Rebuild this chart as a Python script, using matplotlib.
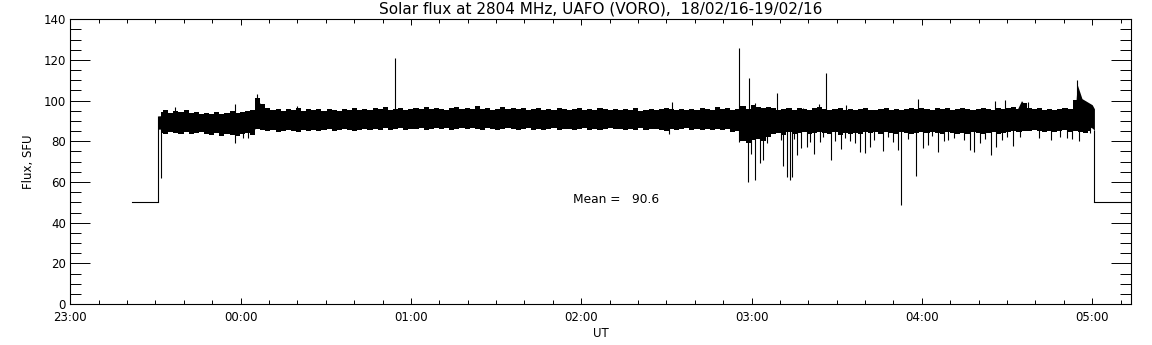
from typing import List

import matplotlib

matplotlib.use("Agg")
import matplotlib.pyplot as plt
import numpy as np
from matplotlib.ticker import FixedLocator, MultipleLocator

# time axis is in hours after 23:00 UT
xMax: float = 6.228
tickHours: List[int] = [0, 1, 2, 3, 4, 5, 6]
tickLabels: List[str] = ["23:00", "00:00", "01:00", "02:00", "03:00", "04:00", "05:00"]

# receiver off (parked at 50 SFU) before and after the observation
offBeforeT: List[float] = [0.360, 0.517]
offBeforeV: List[float] = [50.0, 50.0]
offAfterT: List[float] = [6.013, 6.228]
offAfterV: List[float] = [50.0, 50.0]

# envelope of the solid noise band
bandT: List[float] = [
    0.517, 0.60, 0.70, 0.80, 0.90, 1.00, 1.08, 1.095, 1.12, 1.15, 1.20, 1.40,
    1.60, 1.80, 2.00, 2.50, 3.00, 3.50, 3.90, 3.96, 4.00, 4.13, 4.20, 4.50,
    4.90, 5.20, 5.43, 5.55, 5.585, 5.62, 5.66, 5.90, 5.912, 5.94, 6.00, 6.013,
]
bandHi: List[float] = [
    92.5, 93.0, 93.0, 92.5, 92.0, 92.0, 92.5, 101.0, 98.0, 95.0, 93.5, 93.5,
    93.5, 94.0, 94.0, 94.5, 94.5, 94.0, 94.0, 94.0, 94.0, 93.5, 93.5, 93.5,
    94.0, 93.5, 93.5, 94.0, 100.0, 96.0, 94.0, 94.0, 108.0, 101.0, 98.0, 96.0,
]
bandLo: List[float] = [
    86.0, 86.0, 86.0, 85.5, 85.5, 85.5, 85.5, 88.0, 87.0, 87.0, 87.0, 87.5,
    87.5, 87.5, 88.0, 88.0, 88.0, 88.0, 87.5, 86.0, 84.0, 84.0, 86.0, 86.5,
    86.5, 86.5, 86.5, 87.0, 90.0, 88.0, 87.5, 87.5, 92.0, 89.0, 86.5, 85.5,
]

# ragged edge of the band, one reading every 0.03 h from 0.53 h
fringeStart: float = 0.53
fringeStep: float = 0.03
fringeUp: List[float] = [
    94.5, 95.5, 94.0, 95.0, 94.5, 95.5, 94.0, 94.5, 93.5, 94.0,
    93.5, 94.5, 93.5, 94.0, 95.0, 94.0, 94.5, 95.0, 95.5, 101.5,
    98.5, 96.5, 95.5, 96.0, 95.0, 96.0, 95.5, 96.5, 95.0, 96.0,
    95.5, 96.0, 95.0, 96.0, 95.5, 95.0, 96.0, 95.5, 96.5, 95.5,
    96.0, 95.5, 96.5, 96.0, 97.0, 95.5, 96.0, 96.5, 95.5, 96.0,
    96.5, 96.0, 97.0, 96.0, 96.5, 96.0, 95.5, 96.5, 97.0, 96.0,
    96.5, 96.0, 97.5, 96.0, 96.5, 95.5, 96.0, 97.0, 96.0, 96.5,
    96.0, 96.5, 95.5, 96.0, 96.5, 95.5, 96.0, 95.5, 96.5, 96.0,
    95.5, 96.0, 96.5, 95.5, 96.0, 95.5, 96.5, 96.0, 95.5, 96.0,
    95.5, 96.0, 95.5, 96.5, 95.0, 95.5, 96.0, 95.5, 96.0, 96.5,
    96.0, 95.5, 96.0, 95.5, 96.0, 95.5, 96.5, 96.0, 95.5, 97.0,
    96.0, 96.5, 95.5, 96.0, 97.5, 96.0, 98.0, 97.0, 96.5, 97.0,
    96.5, 95.5, 96.0, 96.5, 95.5, 96.5, 96.0, 95.5, 96.5, 97.0,
    96.0, 95.5, 96.0, 96.5, 95.5, 96.0, 95.5, 96.0, 96.5, 95.5,
    95.5, 96.0, 96.5, 95.5, 96.0, 95.5, 96.0, 96.5, 96.0, 96.5,
    96.0, 95.5, 96.5, 96.0, 96.5, 95.5, 96.0, 96.5, 96.0, 95.5,
    96.0, 96.5, 96.0, 95.5, 96.5, 96.0, 96.5, 97.0, 96.0, 99.0,
    96.5, 96.0, 96.5, 95.5, 96.0, 95.5, 96.0, 96.5, 96.0, 100.5,
    99.0, 98.5, 97.5,
]
fringeDown: List[float] = [
    84.0, 83.5, 84.5, 84.0, 83.5, 84.5, 83.5, 84.0, 84.5, 83.5,
    83.0, 84.0, 82.5, 83.5, 83.0, 82.5, 83.5, 84.0, 83.0, 86.0,
    85.5, 85.0, 85.5, 84.5, 85.0, 85.5, 85.0, 84.5, 85.5, 85.0,
    85.5, 85.0, 85.5, 86.0, 85.0, 85.5, 86.0, 85.5, 85.0, 85.5,
    86.0, 85.5, 86.0, 85.5, 86.5, 85.5, 86.0, 86.5, 85.5, 86.0,
    86.0, 86.5, 85.5, 86.0, 86.5, 86.0, 86.5, 85.5, 86.0, 86.5,
    86.0, 86.5, 86.0, 85.5, 86.5, 86.0, 85.5, 86.0, 86.5, 86.0,
    85.5, 86.0, 86.5, 85.5, 86.0, 85.5, 86.0, 86.5, 85.5, 86.0,
    86.0, 85.5, 86.0, 86.5, 85.5, 86.0, 85.5, 86.0, 86.5, 86.0,
    86.0, 85.5, 86.0, 85.5, 86.5, 85.5, 86.0, 86.0, 85.5, 85.0,
    86.0, 85.5, 86.0, 86.5, 85.5, 86.0, 85.5, 86.0, 85.5, 86.0,
    85.5, 86.0, 84.5, 85.0, 80.0, 79.0, 80.5, 81.0, 80.0, 82.0,
    83.5, 84.0, 83.0, 84.5, 83.5, 84.0, 84.5, 83.5, 84.0, 84.5,
    84.0, 83.5, 84.5, 83.0, 84.0, 83.5, 84.0, 83.5, 84.5, 84.0,
    84.5, 83.5, 84.5, 84.0, 83.5, 84.5, 84.0, 83.5, 84.0, 84.5,
    84.0, 84.5, 84.0, 83.5, 84.5, 84.0, 83.5, 84.0, 83.5, 84.5,
    84.0, 83.5, 84.0, 84.5, 83.5, 84.0, 84.5, 85.0, 84.5, 85.0,
    85.0, 85.5, 85.0, 84.5, 85.0, 84.5, 85.0, 85.5, 84.5, 85.0,
    84.5, 84.0, 85.0,
]

# isolated spikes above the band
upT: List[float] = [
    0.615, 0.967, 1.094, 1.329, 1.908, 3.533, 3.928, 3.987, 4.022, 4.151,
    4.304, 4.398, 4.439, 4.557, 4.979, 5.429, 5.490, 5.625, 5.910,
]
upV: List[float] = [
    97.0, 98.5, 103.5, 97.5, 121.0, 99.5, 125.7, 111.0, 99.0, 103.7,
    96.5, 98.3, 113.6, 97.8, 100.7, 99.8, 100.3, 99.5, 110.0,
]

# isolated spikes below the band
downT: List[float] = [
    0.531, 0.967, 1.014, 1.043, 3.517, 3.928, 3.981, 3.997, 4.022, 4.052,
    4.069, 4.089, 4.120, 4.187, 4.207, 4.226, 4.240, 4.269, 4.289, 4.324,
    4.369, 4.402, 4.469, 4.527, 4.578, 4.637, 4.666, 4.696, 4.774, 4.862,
    4.880, 4.964, 5.009, 5.035, 5.097, 5.156, 5.214, 5.283, 5.308, 5.405,
    5.434, 5.469, 5.534, 5.577, 5.851, 5.925, 5.988,
    4.170, 4.250, 4.345, 4.420, 4.490, 4.550, 4.610, 4.720, 4.800, 4.830,
    4.920, 5.060, 5.130, 5.190, 5.250, 5.340, 5.370, 5.500, 5.690, 5.760,
    5.810, 5.880,
]
downV: List[float] = [
    62.0, 79.0, 81.5, 81.5, 83.4, 79.8, 60.2, 74.0, 61.0, 69.2,
    70.8, 79.0, 84.0, 67.8, 62.6, 61.0, 62.6, 73.3, 76.5, 77.4,
    73.8, 79.8, 70.8, 76.0, 80.0, 74.9, 74.4, 77.4, 75.4, 75.7,
    48.8, 63.0, 76.5, 78.0, 74.9, 80.6, 84.0, 75.7, 74.9, 73.3,
    77.0, 80.6, 77.7, 82.2, 81.4, 80.0, 84.0,
    80.5, 81.0, 79.5, 82.0, 80.0, 81.5, 79.0, 80.5, 82.0, 79.5,
    81.0, 82.5, 80.0, 81.5, 80.5, 79.0, 81.0, 82.0, 81.5, 80.5,
    82.0, 81.0,
]

meanText: str = "Mean =   90.6"
meanPos: List[float] = [2.950, 51.6]


def plotFlux(fp: str) -> None:
    """
    Draw the 2804 MHz flux record in the style of the IDL plot
    """

    plt.rcParams["font.family"] = "DejaVu Sans"
    fig = plt.figure(figsize=(11.52, 3.45), dpi=100)
    ax = fig.add_axes([0.0610, 0.1188, 0.9208, 0.8252])

    lw: float = 0.8
    mid: float = 90.0
    ax.plot(offBeforeT, offBeforeV, color="black", lw=lw)
    ax.plot(offAfterT, offAfterV, color="black", lw=lw)
    ax.vlines(offBeforeT[-1], offBeforeV[-1], bandHi[0], color="black", lw=lw)
    ax.vlines(offAfterT[0], offAfterV[0], bandLo[-1], color="black", lw=lw)

    ax.fill_between(bandT, bandLo, bandHi, color="black", lw=0)

    fringeUpT = fringeStart + fringeStep * np.arange(len(fringeUp))
    fringeDownT = fringeStart + fringeStep * np.arange(len(fringeDown))
    ax.fill_between(fringeUpT, mid, fringeUp, step="mid", color="black", lw=0)
    ax.fill_between(fringeDownT, fringeDown, mid, step="mid", color="black", lw=0)

    ax.vlines(upT, mid, upV, color="black", lw=lw)
    ax.vlines(downT, downV, mid, color="black", lw=lw)

    ax.text(meanPos[0], meanPos[1], meanText, ha="left", va="center", fontsize=8.8)

    ax.set_xlim(0, xMax)
    ax.set_ylim(0, 140)
    ax.xaxis.set_major_locator(FixedLocator(tickHours))
    ax.set_xticklabels(tickLabels)
    ax.xaxis.set_minor_locator(MultipleLocator(1 / 6))
    ax.yaxis.set_major_locator(MultipleLocator(20))
    ax.yaxis.set_minor_locator(MultipleLocator(5))

    ax.tick_params(axis="x", which="major", direction="in", top=True, length=4.1,
                   width=0.7, labelsize=8.5, pad=5)
    ax.tick_params(axis="x", which="minor", direction="in", top=True, length=2.9, width=0.7)
    ax.tick_params(axis="y", which="major", direction="in", right=True, length=14.6,
                   width=0.7, labelsize=8.5, pad=3)
    ax.tick_params(axis="y", which="minor", direction="in", right=True, length=7.7, width=0.7)
    for spine in ax.spines.values():
        spine.set_linewidth(0.8)

    ax.set_title("Solar flux at 2804 MHz, UAFO (VORO),  18/02/16-19/02/16",
                 fontsize=11, pad=4)
    ax.set_xlabel("UT", fontsize=8.5, labelpad=2)
    ax.set_ylabel("Flux, SFU", fontsize=8.5, labelpad=6)

    fig.savefig(fp, dpi=100)


if __name__ == "__main__":
    plotFlux("out.png")
